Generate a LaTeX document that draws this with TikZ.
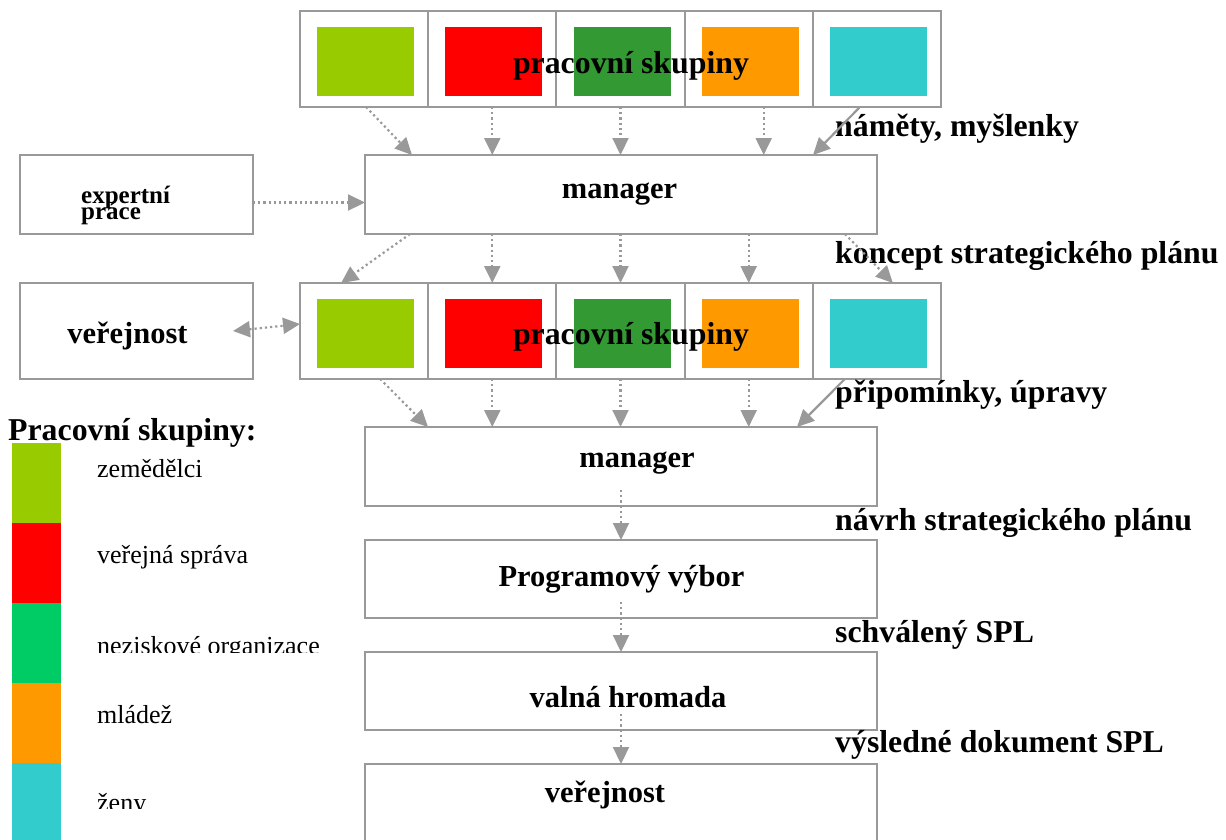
\documentclass[tikz,border=0pt]{standalone}
\usepackage{fontspec}
\setmainfont{Liberation Serif}
\usetikzlibrary{positioning, arrows.meta}
\definecolor{linegray}{HTML}{999999}
\definecolor{sqlime}{HTML}{99CC00}
\definecolor{sqred}{HTML}{FF0000}
\definecolor{sqgreen}{HTML}{339933}
\definecolor{sqorange}{HTML}{FF9900}
\definecolor{sqcyan}{HTML}{33CCCC}
\definecolor{keygreen}{HTML}{00CC66}
\tikzset{
  cell1/.style = {
    shape = rectangle,
    draw = linegray,
    line width = 2pt,
    minimum width = 128.2pt,
    minimum height = 96pt,
    inner sep = 0pt,
    outer sep = 0pt,
  }
}
\tikzset{
  square1/.style = {
    shape = rectangle,
    minimum width = 97pt,
    minimum height = 69pt,
    inner sep = 0pt,
  }
}
\tikzset{
  box1/.style = {
    shape = rectangle,
    draw = linegray,
    line width = 2pt,
    minimum width = 512pt,
    minimum height = 79pt,
    inner sep = 0pt,
    outer sep = 0pt,
  }
}
\tikzset{
  keybox/.style = {
    shape = rectangle,
    minimum width = 49pt,
    minimum height = 80pt,
    inner sep = 0pt,
  }
}
\tikzset{
  text1/.style = {inner sep = 0pt, anchor = base, font = \bfseries\fontsize{30.5}{32}\selectfont},
  label1/.style = {inner sep = 0pt, anchor = base west, font = \bfseries\fontsize{31.8}{34}\selectfont},
  small1/.style = {inner sep = 0pt, anchor = base west, font = \bfseries\fontsize{25}{27}\selectfont},
  legend1/.style = {inner sep = 0pt, anchor = base west, font = \fontsize{26}{28}\selectfont},
}
\tikzset{
  arrow1/.style = {
    draw = linegray, line width = 2.2pt, dash pattern = on 2.2pt off 3pt,
    -{Triangle[length = 17pt, width = 16pt]},
  },
  arrow2/.style = {
    draw = linegray, line width = 2.2pt, -{Triangle[length = 17pt, width = 16pt]},
  },
  arrow3/.style = {
    arrow1, {Triangle[length = 17pt, width = 16pt]}-{Triangle[length = 17pt, width = 16pt]},
  },
}

\begin{document}
\begin{tikzpicture}[x = 1pt, y = -1pt]
            \useasboundingbox (0, 0) rectangle (1226, 839);
            % pracovni skupiny (top)
            \node[cell1](g1a) at (364.1, 59){};
            \node[cell1, right = 0pt of g1a](g1b){};
            \node[cell1, right = 0pt of g1b](g1c){};
            \node[cell1, right = 0pt of g1c](g1d){};
            \node[cell1, right = 0pt of g1d](g1e){};
            \node[square1, fill = sqlime](s1a) at ([xshift = 1.5pt, yshift = -2.5pt]g1a.center){};
            \node[square1, fill = sqred](s1b) at ([xshift = 1.5pt, yshift = -2.5pt]g1b.center){};
            \node[square1, fill = sqgreen](s1c) at ([xshift = 1.5pt, yshift = -2.5pt]g1c.center){};
            \node[square1, fill = sqorange](s1d) at ([xshift = 1.5pt, yshift = -2.5pt]g1d.center){};
            \node[square1, fill = sqcyan](s1e) at ([xshift = 1.5pt, yshift = -2.5pt]g1e.center){};
            \node[text1, font = \bfseries\fontsize{31.8}{34}\selectfont](t1) at (631, 73){pracovní skupiny};

            \node[box1](mgr1) at (621, 194.5){};
            \node[text1](mgr1t) at (619.5, 198){manager};
            \node[box1, minimum width = 233pt](expert) at (136.5, 194.5){};
            \node[small1](exp1) at (81, 203){expertní};
            \node[small1](exp2) at (81, 219){práce};

            % pracovni skupiny (second)
            \node[cell1](g2a) at (364.1, 331){};
            \node[cell1, right = 0pt of g2a](g2b){};
            \node[cell1, right = 0pt of g2b](g2c){};
            \node[cell1, right = 0pt of g2c](g2d){};
            \node[cell1, right = 0pt of g2d](g2e){};
            \node[square1, fill = sqlime](s2a) at ([xshift = 1.5pt, yshift = -2.5pt]g2a.center){};
            \node[square1, fill = sqred](s2b) at ([xshift = 1.5pt, yshift = -2.5pt]g2b.center){};
            \node[square1, fill = sqgreen](s2c) at ([xshift = 1.5pt, yshift = -2.5pt]g2c.center){};
            \node[square1, fill = sqorange](s2d) at ([xshift = 1.5pt, yshift = -2.5pt]g2d.center){};
            \node[square1, fill = sqcyan](s2e) at ([xshift = 1.5pt, yshift = -2.5pt]g2e.center){};
            \node[text1, font = \bfseries\fontsize{31.8}{34}\selectfont](t2) at (631, 344){pracovní skupiny};
            \node[box1, minimum width = 233pt, minimum height = 96pt](pub1) at (136.5, 331){};
            \node[text1](pub1t) at (127.5, 343){veřejnost};

            % postup
            \node[box1](mgr2) at (621, 466.5){};
            \node[text1](mgr2t) at (637, 467){manager};
            \node[box1, minimum height = 78pt](prog) at (621, 579){};
            \node[text1](progt) at (621.5, 586){Programový výbor};
            \node[box1, minimum height = 78pt](valna) at (621, 691){};
            \node[text1](valnat) at (628, 707){valná hromada};
            \node[box1, minimum height = 78pt](pub2) at (621, 803){};
            \node[text1](pub2t) at (605, 802){veřejnost};

            % popisky vpravo
            \node[label1](l1) at (835, 136){náměty, myšlenky};
            \node[label1](l2) at (835, 263){koncept strategického plánu};
            \node[label1](l3) at (835, 402){připomínky, úpravy};
            \node[label1](l4) at (835, 530){návrh strategického plánu};
            \node[label1](l5) at (835, 642){schválený SPL};
            \node[label1](l6) at (835, 752){výsledné dokument SPL};

            % legenda
            \node[label1](key0) at (8, 440){Pracovní skupiny:};
            \node[keybox, fill = sqlime](k1) at (36.5, 483){};
            \node[keybox, fill = sqred](k2) at (36.5, 563){};
            \node[keybox, fill = keygreen](k3) at (36.5, 643){};
            \node[keybox, fill = sqorange](k4) at (36.5, 723){};
            \node[keybox, fill = sqcyan](k5) at (36.5, 803){};
            \node[legend1](k1t) at (97, 477){zemědělci};
            \node[legend1](k2t) at (97, 563){veřejná správa};
            \begin{scope}
              \clip (90, 610) rectangle (400, 652.5);
              \node[legend1](k3t) at (97, 654){neziskové organizace};
            \end{scope}
            \node[legend1](k4t) at (97, 723){mládež};
            \begin{scope}
              \clip (90, 770) rectangle (400, 808.5);
              \node[legend1](k5t) at (97, 811){ženy};
            \end{scope}

            % sipky
            \draw[arrow1]([xshift = 2pt]g1a.south) -- ([xshift = 47pt]mgr1.north west);
            \draw[arrow1](g1b.south) -- (g1b.south |- mgr1.north);
            \draw[arrow1](g1c.south) -- (g1c.south |- mgr1.north);
            \draw[arrow1]([xshift = 15pt]g1d.south) -- ([xshift = 15pt]g1d.south |- mgr1.north);
            \draw[arrow2]([xshift = -17pt]g1e.south) -- ([xshift = -64pt]mgr1.north east);
            \draw[arrow1]([yshift = -8pt]expert.east) -- ([yshift = -8pt]expert.east -| mgr1.west);

            \draw[arrow1]([xshift = 45pt]mgr1.south west) -- ([xshift = -23pt]g2a.north);
            \draw[arrow1](mgr1.south -| g2b.north) -- (g2b.north);
            \draw[arrow1](mgr1.south -| g2c.north) -- (g2c.north);
            \draw[arrow1](mgr1.south -| g2d.north) -- (g2d.north);
            \draw[arrow1]([xshift = -32pt]mgr1.south east) -- ([xshift = 16pt]g2e.north);
            \draw[arrow3]([xshift = -20pt]pub1.east) -- ([yshift = 7pt]g2a.west);

            \draw[arrow1]([xshift = 16pt]g2a.south) -- ([xshift = 63pt]mgr2.north west);
            \draw[arrow1](g2b.south) -- (g2b.south |- mgr2.north);
            \draw[arrow1](g2c.south) -- (g2c.south |- mgr2.north);
            \draw[arrow1](g2d.south) -- (g2d.south |- mgr2.north);
            \draw[arrow2]([xshift = -32pt]g2e.south) -- ([xshift = -80pt]mgr2.north east);

            \draw[arrow1]([yshift = 16pt]mgr2.south) -- (prog.north);
            \draw[arrow1]([yshift = 16pt]prog.south) -- (valna.north);
            \draw[arrow1]([yshift = 16pt]valna.south) -- (pub2.north);
        \end{tikzpicture}
\end{document}
